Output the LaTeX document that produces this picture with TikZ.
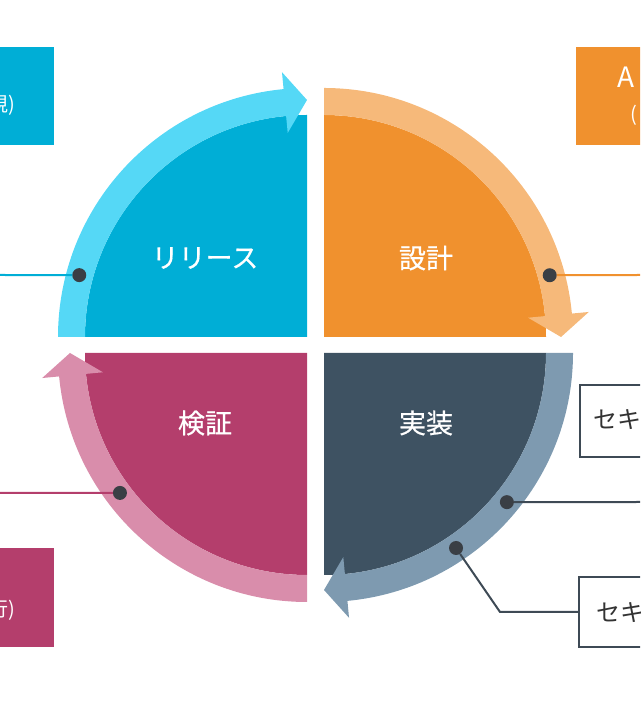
\documentclass[tikz,border=0pt]{standalone}
\usepackage{fontspec}
\setmainfont{Noto Sans CJK JP}
\newfontfamily\phasefont{Noto Sans CJK JP}[FakeBold=0.6]
\usetikzlibrary{calc,positioning}
\definecolor{relfill}{RGB}{0,174,214}
\definecolor{relband}{RGB}{85,216,246}
\definecolor{desfill}{RGB}{240,145,46}
\definecolor{desband}{RGB}{246,185,122}
\definecolor{impfill}{RGB}{62,82,98}
\definecolor{impband}{RGB}{126,154,176}
\definecolor{verfill}{RGB}{180,62,108}
\definecolor{verband}{RGB}{217,141,171}
\definecolor{dotgray}{RGB}{58,63,69}
\definecolor{edgegray}{RGB}{62,74,85}

\begin{document}
\begin{tikzpicture}[x=1pt,y=1pt,
  dot/.style={circle,fill=dotgray,inner sep=0pt,minimum size=14pt},
  phase/.style={text=white,font=\phasefont\fontsize{27}{31}\selectfont},
  tag/.style={inner sep=0pt,minimum width=120pt},
  tagtxt/.style={text=white,inner sep=0pt,font=\fontsize{20}{24}\selectfont},
  sectag/.style={draw=edgegray,line width=2pt,fill=white,inner sep=0pt,minimum width=120pt},
  sectxt/.style={text=black!80,inner sep=0pt,font=\fontsize{24}{28}\selectfont}]
\useasboundingbox (0,0) rectangle (640,708);
\clip (0,0) rectangle (640,708);
\begin{scope}[shift={(307,371)}]
\fill[relfill] (0,0)--(180:222) arc[start angle=180,end angle=90,radius=222]--cycle;
\fill[relband] (180:222) arc[start angle=180,end angle=95.4,radius=222]--(95.4:205)--(90:237)--(95.4:266)--(95.4:249) arc[start angle=95.4,end angle=180,radius=249]--cycle;
\node[phase] (rel) at (-102,79) {リリース};
\node[dot] (reldot) at (164.8:236) {};
\end{scope}
\begin{scope}[shift={(324,371)}]
\fill[desfill] (0,0)--(90:222) arc[start angle=90,end angle=0,radius=222]--cycle;
\fill[desband] (90:222) arc[start angle=90,end angle=5.4,radius=222]--(5.4:205)--(0:237)--(5.4:266)--(5.4:249) arc[start angle=5.4,end angle=90,radius=249]--cycle;
\node[phase] (des) at (102,79) {設計};
\node[dot] (desdot) at (15.3:234) {};
\end{scope}
\begin{scope}[shift={(324,355)}]
\fill[impfill] (0,0)--(0:222) arc[start angle=0,end angle=-90,radius=222]--cycle;
\fill[impband] (0:222) arc[start angle=0,end angle=-84.6,radius=222]--(-84.6:205)--(-90:237)--(-84.6:266)--(-84.6:249) arc[start angle=-84.6,end angle=0,radius=249]--cycle;
\node[phase] (imp) at (102,-70) {実装};
\node[dot] (impdot) at (-39.2:236) {};
\node[dot] (impdotb) at (-55.9:235.5) {};
\end{scope}
\begin{scope}[shift={(307,355)}]
\fill[verfill] (0,0)--(-90:222) arc[start angle=-90,end angle=-180,radius=222]--cycle;
\fill[verband] (-90:222) arc[start angle=-90,end angle=-174.6,radius=222]--(-174.6:205)--(-180:237)--(-174.6:266)--(-174.6:249) arc[start angle=-174.6,end angle=-90,radius=249]--cycle;
\node[phase] (ver) at (-102,-70) {検証};
\node[dot] (verdot) at (216.8:233.6) {};
\end{scope}

\node[tag,fill=relfill,minimum height=98pt,anchor=east] (relbox) at (54,612) {};
\node[tagtxt,anchor=east] (reltxt) at (15,603) {視)};
\node[tag,fill=desfill,minimum height=98pt,anchor=west] (desbox) at (576,612) {};
\node[text=white,inner sep=0pt,font=\fontsize{28}{32}\selectfont,anchor=west] (destxt) at (617,631) {A};
\node[tagtxt,anchor=west] (destxtb) at (630,593) {(};
\node[tag,fill=verfill,minimum height=99pt,anchor=east] (verbox) at (54,110) {};
\node[tagtxt,anchor=east] (vertxt) at (15,98) {行)};
\node[sectag,minimum height=72pt,anchor=west] (secbox) at (579,287) {};
\node[sectxt,anchor=west] (sectxt) at (593,288) {セキ};
\node[sectag,minimum height=70pt,anchor=west] (secboxb) at (578,96) {};
\node[sectxt,anchor=west] (sectxtb) at (596,95) {セキ};

\coordinate (relend) at (0,433);
\coordinate (desend) at (640,433);
\coordinate (verend) at (0,215);
\coordinate (impend) at (640,206);
\coordinate (impbend) at (500,96);
\draw[relfill,line width=2pt] (reldot)--(relend);
\draw[desfill,line width=2pt] (desdot)--(desend);
\draw[verfill,line width=2pt] (verdot)--(verend);
\draw[edgegray,line width=2pt] (impdot)--(impend);
\draw[edgegray,line width=2pt] (impdotb)--(impbend)--(secboxb.west);
\end{tikzpicture}
\end{document}
